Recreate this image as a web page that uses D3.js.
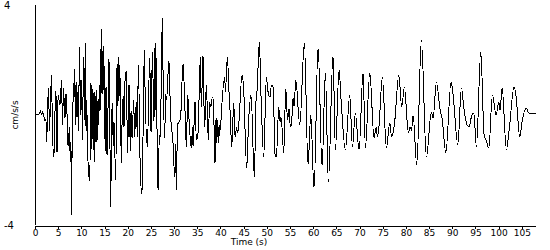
<!DOCTYPE html>
<html>
<head>
<meta charset="utf-8">
<script src="https://cdn.jsdelivr.net/npm/d3@7"></script>
<style>
  body { margin: 0; background: #fff; }
  text { font-family: "DejaVu Sans", sans-serif; fill: #000; }
</style>
</head>
<body>
<svg id="chart"></svg>
<script>
// acceleration record: [time (s), accel (cm/s/s)]
const strongPhase = [[0,0],[0.86,0.04],[1.19,0.15],[1.40,0],[1.62,0.11],[1.94,-0.07],[2.16,-0.22],[2.37,-0.15],[2.52,-0.98],[2.70,0.11],[2.91,0.98],[3.13,-0.55],[3.24,-0.07],[3.56,1.42],[3.78,-0.73],[4.10,-1.53],[4.32,0.18],[4.53,0.91],[4.75,-1.53],[4.96,0.73],[5.39,0.36],[5.72,1.24],[5.93,-0.36],[6.15,0.98],[6.47,-0.18],[6.69,0.84],[7.01,-0.55],[7.12,-1.16],[7.44,-0.47],[7.62,-1.71],[7.77,-0.91],[7.87,-3.6],[8.09,0.36],[8.31,0.62],[8.52,1.64],[8.74,-0.36],[8.85,1.31],[9.06,-0.18],[9.28,0.91],[9.38,-0.55],[9.60,2.44],[9.82,0],[10.03,1.27],[10.25,-0.91],[10.46,2.11],[10.68,-0.18],[10.85,2.62],[11.0,-0.73],[11.15,0.55],[11.33,-1.16],[11.76,-2.4],[11.97,-0.55],[12.08,1.38],[12.25,-1.27],[12.51,1.09],[12.66,-1.27],[12.77,0.84],[12.88,-1.71],[13.01,0.69],[13.16,-1.2],[13.31,0.91],[13.44,-0.91],[13.59,0.69],[13.74,-0.36],[13.92,1.09],[14.09,0.18],[14.30,3.16],[14.45,0.55],[14.61,2.36],[14.74,0.91],[14.82,2.51],[14.99,0.18],[15.17,-1.31],[15.32,1.27],[15.53,-1.64],[15.97,2.22],[16.33,-3.35],[16.5,-0.47],[16.68,0.44],[16.89,-1.13],[17.04,-0.18],[17.41,-2.36],[17.69,2.0],[17.91,0.18],[17.97,2.11],[18.12,0.55],[18.27,1.82],[18.45,0.29],[18.62,-1.75],[18.83,0.18],[19.05,0.69],[19.2,-0.55],[19.42,1.27],[19.7,1.6],[19.85,-0.18],[20.0,-1.38],[20.28,1.27],[20.56,-1.31],[20.71,0.25],[20.93,-0.91],[21.29,0.55],[21.47,-0.8],[21.86,0.47],[22.07,-0.8],[22.29,1.82],[22.72,-2.07],[23.09,-2.91],[23.58,2.36],[23.73,1.02],[24.23,-1.16],[24.75,2.07],[25.03,-0.8],[25.31,2.29],[25.67,-0.36],[25.83,2.44],[25.95,0.18],[26.04,2.62],[26.32,-0.55],[26.54,-2.84],[26.82,-0.73],[26.97,-0.91],[27.18,0.55],[27.46,3.56],[27.61,1.64],[27.98,-0.84],[28.15,0.73],[28.37,0.55],[28.91,2.0],[29.23,0],[29.45,-0.44],[29.77,-1.02],[30.14,-2.25],[30.31,-1.09],[30.49,-2.73],[30.74,-0.36]];

const midPhase = [[31.07,-0.25],[31.39,-0.11],[31.93,1.89],[32.25,0.73],[32.64,-1.16],[32.95,0.73],[33.23,-0.18],[33.72,-1.2],[33.98,-0.44],[34.09,-1.2],[34.52,0.55],[34.8,-0.91],[35.17,-0.65],[35.66,2.11],[35.88,0.29],[36.25,2.25],[36.46,0.29],[36.61,-0.44],[36.96,1.09],[37.39,-0.91],[37.65,0.44],[37.9,0.29],[38.25,0.65],[38.47,0.55],[38.83,-1.89],[39.05,0],[39.2,-1.02],[39.42,-0.18],[39.59,-1.02],[39.85,-0.36],[39.98,-0.55],[40.19,0.07],[40.93,1.38],[41.06,0.84],[41.49,2.11],[41.86,0.8],[42.07,0.18],[42.44,-1.16],[42.87,0.44],[43.15,-0.8],[43.48,-0.47],[43.73,-0.65],[43.9,-0.44],[44.66,1.45],[44.98,1.02],[45.67,-1.93],[46.06,-0.29],[46.6,0.73],[47.31,-2.25],[47.68,0.55],[47.9,0.91],[48.39,2.65],[48.76,0.65],[49.34,-1.53],[49.9,1.38],[50.27,0.84],[50.7,0.65],[50.98,1.09],[51.41,0.98],[51.72,-1.38],[52.06,-1.53],[52.58,0.29],[52.86,-0.25],[53.07,-0.07],[53.66,-1.38],[54.09,0.95],[54.48,-0.18],[54.8,0.25],[55.08,-0.44],[55.34,-0.29],[55.66,0.65],[55.88,0.29],[56.25,1.27],[57.11,-0.36],[58.1,2.62],[58.9,-1.82],[59.48,0],[60.19,-2.67]];

const coda = [[61.06,2.47],[61.92,-1.89],[62.63,1.53],[63.28,-2.44],[64.29,2.18],[64.79,-1.27],[65.59,1.64],[66.02,0.55],[66.95,-1.27],[67.9,0.73],[68.46,-1.16],[69.1,0.07],[69.9,-1.27],[70.77,1.56],[71.26,-1.2],[72.21,1.53],[73.14,-0.84],[73.57,-0.44],[73.89,-0.8],[74.22,-0.36],[74.93,1.38],[75.79,-1.2],[76.53,-0.29],[76.91,-0.8],[77.52,-0.36],[78.47,1.45],[79.1,0.29],[79.68,1.02],[80.54,-0.65],[80.91,-0.44],[81.23,-0.55],[81.55,0],[82.35,-1.82],[83.34,2.73],[84.42,-1.53],[85.5,0.11],[85.87,-0.11],[86.58,1.2],[87.38,0.18],[87.81,-0.11],[88.61,-1.38],[89.75,1.2],[90.18,0.73],[91.2,-1.09],[91.97,0.98],[92.56,0.18],[93.2,-0.36],[93.64,-0.44],[94.07,-0.11],[94.65,0.07],[95.21,-1.16],[96.16,2.29],[96.87,-0.73],[97.3,-0.91],[97.89,-1.2],[98.66,0.73],[99.46,0],[100.04,0.47],[100.32,0.18],[100.76,0.98],[101.68,-1.27],[102.27,-0.55],[103.34,1.02],[103.78,0.65],[104.57,-0.8],[105.07,-0.22],[106.0,0.25],[106.36,0.11],[107.01,0.04],[108.0,0.04]];

const xTicks = d3.range(0, 110, 5);
const yTicks = [-4, 4];

const width = 550, height = 250;
const svg = d3.select("#chart").attr("width", width).attr("height", height);

const x = d3.scaleLinear().domain([0, 108]).range([35, 535.7]);
const y = d3.scaleLinear().domain([-4, 4]).range([225, 5]);

const record = strongPhase.concat(midPhase, coda);

// trace
svg.append("path")
  .datum(record)
  .attr("fill", "none")
  .attr("stroke", "#000")
  .attr("stroke-width", 1)
  .attr("shape-rendering", "crispEdges")
  .attr("d", d3.line()
    .x(d => x(d[0]))
    .y(d => y(d[1]))
    .curve(d3.curveMonotoneX));

// x axis
const xAxis = svg.append("g")
  .attr("transform", "translate(0,225.5)")
  .call(d3.axisBottom(x).tickValues(xTicks).tickSize(3).tickSizeOuter(0).tickPadding(1));
xAxis.selectAll("line, path").attr("stroke", "#000").attr("shape-rendering", "crispEdges");
xAxis.selectAll("text").attr("font-size", 9).attr("font-family", "DejaVu Sans");

// y axis: line only, end labels flush left
svg.append("line")
  .attr("x1", 35.5).attr("x2", 35.5)
  .attr("y1", y(4)).attr("y2", y(-4))
  .attr("stroke", "#000")
  .attr("shape-rendering", "crispEdges");

svg.selectAll(".ylab")
  .data(yTicks)
  .enter()
  .append("text")
  .attr("class", "ylab")
  .attr("x", 4)
  .attr("y", d => y(d))
  .attr("dy", "0.35em")
  .attr("font-size", 10)
  .text(d => d3.format("d")(d).replace("−", "-"));

svg.append("text")
  .attr("transform", "translate(18,115) rotate(-90)")
  .attr("text-anchor", "middle")
  .attr("font-size", 9)
  .text("cm/s/s");

svg.append("text")
  .attr("x", 249)
  .attr("y", 245)
  .attr("text-anchor", "middle")
  .attr("font-size", 9)
  .text("Time (s)");
</script>
</body>
</html>
